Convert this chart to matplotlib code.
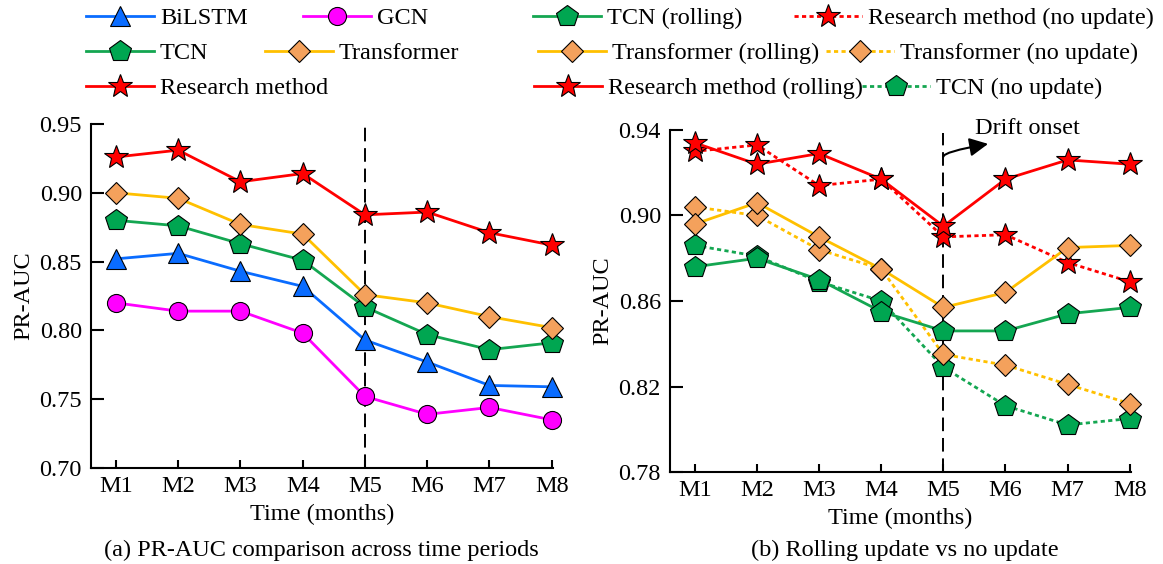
import matplotlib
matplotlib.use("Agg")
import matplotlib.pyplot as plt

# Data
months = ["M1", "M2", "M3", "M4", "M5", "M6", "M7", "M8"]

# (a) PR-AUC comparison
bilstm = [0.852, 0.856, 0.843, 0.832, 0.793, 0.777, 0.760, 0.759]
gcn = [0.820, 0.814, 0.814, 0.798, 0.752, 0.739, 0.744, 0.735]
tcn = [0.880, 0.876, 0.863, 0.851, 0.817, 0.797, 0.786, 0.791]
transformer = [0.900, 0.896, 0.877, 0.870, 0.826, 0.820, 0.810, 0.802]
research = [0.926, 0.931, 0.908, 0.914, 0.884, 0.886, 0.871, 0.862]

# (b) rolling update vs no update
research_roll = [0.934, 0.924, 0.929, 0.917, 0.895, 0.917, 0.926, 0.924]
research_noup = [0.930, 0.933, 0.914, 0.917, 0.890, 0.891, 0.878, 0.869]
trans_roll = [0.896, 0.906, 0.890, 0.875, 0.857, 0.864, 0.885, 0.886]
trans_noup = [0.904, 0.900, 0.884, 0.875, 0.835, 0.830, 0.821, 0.812]
tcn_roll = [0.876, 0.880, 0.870, 0.855, 0.846, 0.846, 0.854, 0.857]
tcn_noup = [0.886, 0.881, 0.869, 0.860, 0.829, 0.811, 0.802, 0.805]

yticks_a = [0.70, 0.75, 0.80, 0.85, 0.90, 0.95]
yticks_b = [0.78, 0.82, 0.86, 0.90, 0.94]

# Style
plt.rcParams["font.family"] = ["Liberation Serif", "DejaVu Serif"]
FS = 17.5
BLUE = "#0a6cff"
MAGENTA = "#ff00ff"
GREEN_LINE = "#14a651"
GREEN = "#00a651"
GOLD = "#ffc000"
SAND = "#f4a15c"
RED = "#ff0000"
DOT = (0, (1.5, 1.2))

W, H = 1163, 564
fig = plt.figure(figsize=(W / 100, H / 100), dpi=100)
x = list(range(1, len(months) + 1))


def style_axes(ax, yticks, ylim):
    ax.set_xlim(0.6, 8.02)
    ax.set_ylim(*ylim)
    ax.set_xticks(x)
    ax.set_xticklabels(months)
    ax.set_yticks(yticks)
    ax.set_yticklabels(["%.2f" % v for v in yticks])
    for s in ["top", "right"]:
        ax.spines[s].set_visible(False)
    for s in ["left", "bottom"]:
        ax.spines[s].set_linewidth(1.5)
    ax.tick_params(axis="y", direction="in", length=9, width=1.5, pad=6.5, labelsize=FS)
    ax.tick_params(axis="x", direction="in", length=6, width=1.5, pad=6, labelsize=FS)
    ax.set_xlabel("Time (months)", fontsize=FS, labelpad=5)
    ax.set_ylabel("PR-AUC", fontsize=FS, labelpad=4)
    ax.axvline(5, ymax=0.99, color="black", lw=1.4, ls=(0, (7, 3.5)), zorder=1)


def line(ax, y, color, mcolor, marker, ms, ls="-", label=None):
    h, = ax.plot(x, y, color=color, lw=2, ls=ls, marker=marker, ms=ms,
                 markerfacecolor=mcolor, markeredgecolor="black",
                 markeredgewidth=0.8, label=label, zorder=3, clip_on=False)
    return h


# (a)
ax1 = fig.add_axes([91 / W, 1 - 468 / H, (553 - 91) / W, (468 - 124) / H])
style_axes(ax1, yticks_a, (0.70, 0.95))
h_bilstm = line(ax1, bilstm, BLUE, BLUE, "^", 15)
h_gcn = line(ax1, gcn, MAGENTA, MAGENTA, "o", 13)
h_tcn = line(ax1, tcn, GREEN_LINE, GREEN, "p", 16)
h_trans = line(ax1, transformer, GOLD, SAND, "D", 11)
h_res = line(ax1, research, RED, RED, "*", 18)

# (b)
ax2 = fig.add_axes([670 / W, 1 - 472 / H, (1131 - 670) / W, (472 - 130) / H])
style_axes(ax2, yticks_b, (0.78, 0.94))
h_tcn_n = line(ax2, tcn_noup, GREEN_LINE, GREEN, "p", 16, ls=DOT)
h_trans_n = line(ax2, trans_noup, GOLD, SAND, "D", 11, ls=DOT)
h_res_n = line(ax2, research_noup, RED, RED, "*", 18, ls=DOT)
h_tcn_r = line(ax2, tcn_roll, GREEN_LINE, GREEN, "p", 16)
h_trans_r = line(ax2, trans_roll, GOLD, SAND, "D", 11)
h_res_r = line(ax2, research_roll, RED, RED, "*", 18)

ax2.annotate("", xy=(5.72, 0.9335), xytext=(5.0, 0.9275),
             arrowprops=dict(arrowstyle="-|>", color="black", lw=1.5,
                             mutation_scale=28,
                             connectionstyle="angle3,angleA=90,angleB=10",
                             shrinkA=0, shrinkB=0), annotation_clip=False)
ax2.text(6.36, 0.9408, "Drift onset", fontsize=FS, ha="center", va="center",
         clip_on=False)

# captions
fig.text(321 / W, 1 - 550 / H, "(a) PR-AUC comparison across time periods",
         fontsize=FS, ha="center", va="center")
fig.text(905 / W, 1 - 550 / H, "(b) Rolling update vs no update",
         fontsize=FS, ha="center", va="center")

# legends: each entry placed by where its text starts (px) and its row
HL, HTP = 2.8, 0.25
offset = (HL + HTP) * FS * 100 / 72
entries = [
    (h_bilstm, "BiLSTM", 160, 18),
    (h_gcn, "GCN", 377, 18),
    (h_tcn, "TCN", 160, 53),
    (h_trans, "Transformer", 339, 53),
    (h_res, "Research method", 160, 88),
    (h_tcn_r, "TCN (rolling)", 607, 18),
    (h_res_n, "Research method (no update)", 868, 18),
    (h_trans_r, "Transformer (rolling)", 612, 53),
    (h_trans_n, "Transformer (no update)", 900, 53),
    (h_res_r, "Research method (rolling)", 608, 88),
    (h_tcn_n, "TCN (no update)", 936, 88),
]
for h, lbl, tx, ty in entries:
    fig.legend([h], [lbl], loc="center left",
               bbox_to_anchor=((tx - offset) / W, 1 - ty / H),
               frameon=False, borderpad=0, borderaxespad=0,
               handlelength=HL, handletextpad=HTP, fontsize=FS)

fig.savefig("out.png", dpi=100)
